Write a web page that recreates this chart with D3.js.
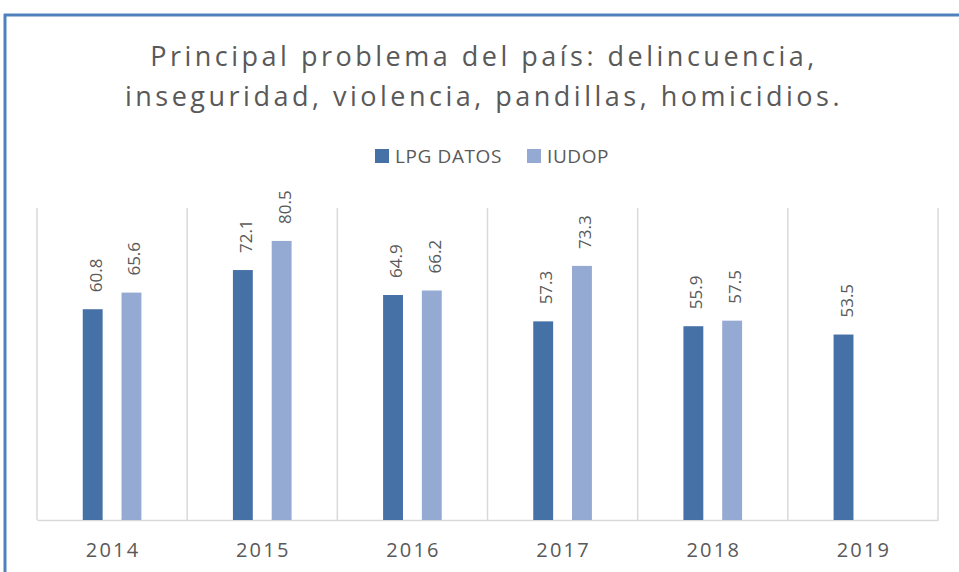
<!DOCTYPE html>
<html>
<head>
<meta charset="utf-8">
<script src="https://cdn.jsdelivr.net/npm/d3@7"></script>
<style>
  body { margin: 0; background: #fff; }
  svg text { font-family: "Open Sans", sans-serif; fill: #595959; }
</style>
</head>
<body>
<svg id="chart" width="959" height="572"></svg>
<script>
var years = ['2014', '2015', '2016', '2017', '2018', '2019'];
var series = ['LPG DATOS', 'IUDOP'];
var lpg = [60.8, 72.1, 64.9, 57.3, 55.9, 53.5];
var iudop = [65.6, 80.5, 66.2, 73.3, 57.5, null];
var colors = ['#4571a7', '#95aad2'];

var svg = d3.select('#chart');

// frame (only top and left edges visible)
svg.append('line').attr('x1', 4).attr('x2', 959).attr('y1', 15).attr('y2', 15)
    .style('stroke', '#4f81bd').style('stroke-width', 3);
svg.append('line').attr('x1', 5).attr('x2', 5).attr('y1', 14).attr('y2', 572)
    .style('stroke', '#4f81bd').style('stroke-width', 3);

// title
var title = svg.append('text')
    .attr('text-anchor', 'middle')
    .style('font-size', '27px')
    .style('letter-spacing', '3.5px');
title.append('tspan').attr('x', 484).attr('y', 66).text('Principal problema del país: delincuencia,');
title.append('tspan').attr('x', 484).attr('y', 106).text('inseguridad, violencia, pandillas, homicidios.');

var x0 = d3.scaleBand().domain(years).range([37, 938]);
var x1 = d3.scaleBand().domain(series).range([0, x0.bandwidth()])
    .paddingInner(0.487).paddingOuter(1.18);
var y = d3.scaleLinear().domain([0, 90]).range([520, 208]);

// vertical gridlines between categories
var gridX = years.map(function (d) { return x0(d); }).concat([x0.range()[1]]);
svg.append('g').selectAll('line')
    .data(gridX)
    .enter()
    .append('line')
    .attr('x1', function (d) { return d; })
    .attr('x2', function (d) { return d; })
    .attr('y1', y(90))
    .attr('y2', y(0))
    .style('stroke', '#d9d9d9')
    .style('stroke-width', 1.5);

// x axis
var xAxis = svg.append('g')
    .attr('transform', 'translate(0,' + y(0) + ')')
    .call(d3.axisBottom(x0).tickSize(0).tickPadding(23));
xAxis.select('.domain').style('stroke', '#d9d9d9').style('stroke-width', 1.5);
xAxis.selectAll('text')
    .style('font-family', '"Open Sans", sans-serif')
    .style('font-size', '20px')
    .style('letter-spacing', '2.2px')
    .attr('dx', '0.05em')
    .style('fill', '#595959');

// bars + labels
var values = [lpg, iudop];
series.forEach(function (s, k) {
    var pts = years.map(function (yr, i) { return { year: yr, v: values[k][i] }; })
        .filter(function (d) { return d.v != null; });
    svg.append('g').selectAll('rect')
        .data(pts)
        .enter()
        .append('rect')
        .attr('x', function (d) { return x0(d.year) + x1(s); })
        .attr('y', function (d) { return y(d.v); })
        .attr('width', x1.bandwidth())
        .attr('height', function (d) { return y(0) - y(d.v); })
        .style('fill', colors[k]);
    svg.append('g').selectAll('text')
        .data(pts)
        .enter()
        .append('text')
        .attr('transform', function (d) {
            var cx = x0(d.year) + x1(s) + x1.bandwidth() / 2 + 9;
            return 'translate(' + cx + ',' + (y(d.v) - 17) + ') rotate(-90)';
        })
        .style('font-size', '17px')
        .text(function (d) { return d.v.toFixed(1); });
});

// legend
var legend = svg.append('g');
var legX = [375, 527];
series.forEach(function (s, k) {
    legend.append('rect')
        .attr('x', legX[k]).attr('y', 149)
        .attr('width', 14).attr('height', 14)
        .style('fill', colors[k]);
    legend.append('text')
        .attr('x', legX[k] + 20).attr('y', 163)
        .style('font-size', '19px')
        .style('letter-spacing', '0.6px')
        .text(s);
});
</script>
</body>
</html>
